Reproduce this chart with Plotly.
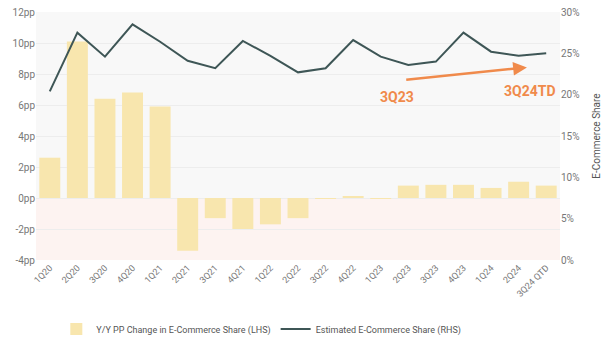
import plotly.graph_objects as go

categories = ["1Q20", "2Q20", "3Q20", "4Q20", "1Q21", "2Q21", "3Q21", "4Q21", "1Q22", "2Q22",
              "3Q22", "4Q22", "1Q23", "2Q23", "3Q23", "4Q23", "1Q24", "2Q24", "3Q24 QTD"]
yy_pp_change = [2.6, 10.1, 6.4, 6.8, 5.9, -3.4, -1.3, -2.0, -1.7, -1.3,
                -0.05, 0.1, -0.05, 0.8, 0.85, 0.85, 0.65, 1.05, 0.8]
ecom_share = [20.4, 27.5, 24.6, 28.5, 26.4, 24.1, 23.2, 26.5, 24.7, 22.7,
              23.2, 26.6, 24.6, 23.6, 24.0, 27.5, 25.2, 24.7, 25.0]
left_ticks = [-4, -2, 0, 2, 4, 6, 8, 10, 12]
left_labels = [f"{v}pp" for v in left_ticks]
right_ticks = [0, 5, 10, 15, 20, 25, 30]
right_labels = [f"{v}%" for v in right_ticks]

orange = "#F08A4B"
font = "Roboto, Arial, sans-serif"

fig = go.Figure()
fig.add_trace(go.Bar(
    x=categories, y=yy_pp_change, name="Y/Y PP Change in E-Commerce Share (LHS)",
    marker=dict(color="#F8E6AE", line=dict(width=0)), yaxis="y",
))
fig.add_trace(go.Scatter(
    x=categories, y=ecom_share, name="Estimated E-Commerce Share (RHS)",
    mode="lines", line=dict(color="#3E5656", width=2), yaxis="y2",
))

# background bands
fig.add_shape(type="rect", xref="paper", yref="y", x0=0, x1=1, y0=0, y1=12,
              fillcolor="#F8F8F8", line=dict(width=0), layer="below")
fig.add_shape(type="rect", xref="paper", yref="y", x0=0, x1=1, y0=-4, y1=0,
              fillcolor="#FDF3F1", line=dict(width=0), layer="below")

# arrow + labels
fig.add_annotation(x=17.3, y=23.3, xref="x", yref="y2", ax=12.87, ay=21.8,
                   axref="x", ayref="y2", showarrow=True, arrowhead=2, arrowsize=1.1,
                   arrowwidth=2.5, arrowcolor=orange, text="")
fig.add_annotation(x=12.58, y=19.7, xref="x", yref="y2", text="<b>3Q23</b>", showarrow=False,
                   font=dict(color=orange, size=14, family=font))
fig.add_annotation(x=17.4, y=20.4, xref="x", yref="y2", text="<b>3Q24TD</b>", showarrow=False,
                   font=dict(color=orange, size=14, family=font))

fig.update_layout(
    width=606, height=355,
    margin=dict(l=36, r=46, t=12, b=95),
    paper_bgcolor="white", plot_bgcolor="rgba(0,0,0,0)",
    font=dict(family=font, color="#666", size=9),
    bargap=0.24,
    showlegend=True,
    legend=dict(orientation="h", x=0.43, xanchor="center", y=-0.22, yanchor="top",
                font=dict(size=9, color="#555"), bgcolor="rgba(0,0,0,0)",
                itemwidth=30, tracegroupgap=0),
    xaxis=dict(tickangle=-45, tickfont=dict(size=9, color="#777"), showgrid=False,
               showline=False, ticks="", range=[-0.5, 18.5], automargin=False),
    yaxis=dict(range=[-4, 12], tickvals=left_ticks, ticktext=left_labels,
               tickfont=dict(size=10, color="#777"), gridcolor="#EDEDED", zeroline=False,
               showline=False, ticks="", automargin=False),
    yaxis2=dict(range=[0, 30], tickvals=right_ticks, ticktext=right_labels, overlaying="y",
                side="right", showgrid=False, zeroline=False, tickfont=dict(size=10, color="#777"),
                automargin=False,
                title=dict(text="E-Commerce Share", font=dict(size=10, color="#555"), standoff=14)),
)

fig.write_html("out.html")
